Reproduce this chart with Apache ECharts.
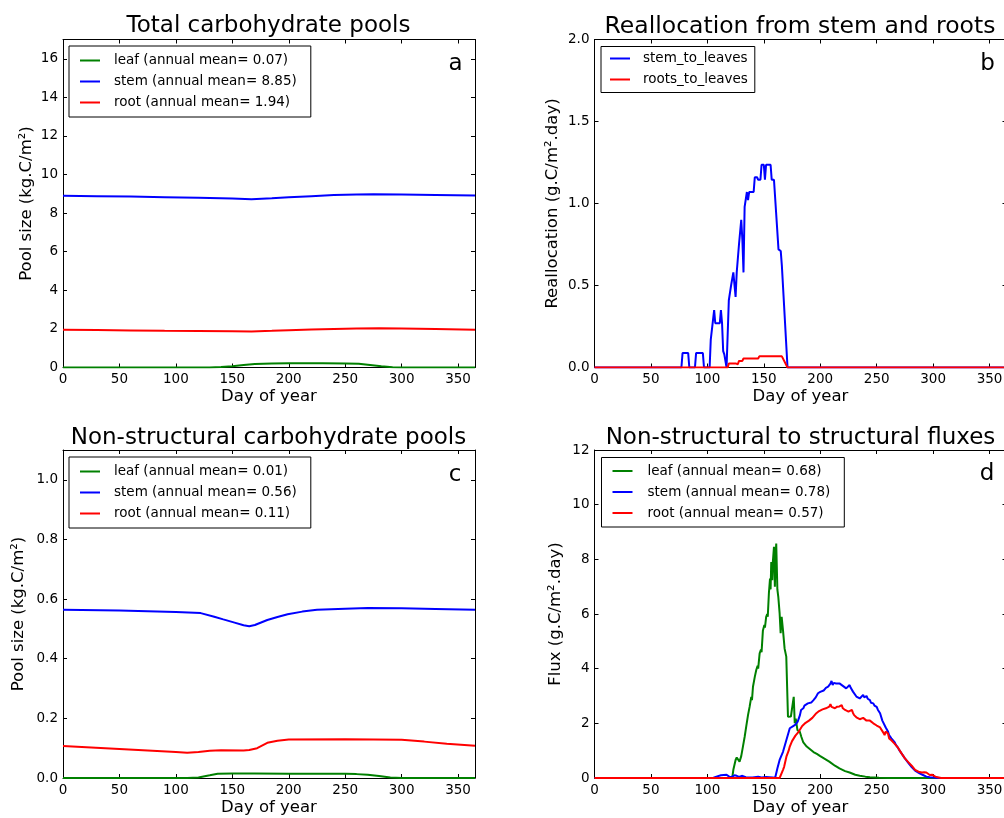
<!DOCTYPE html>
<html><head><meta charset="utf-8">
<script src="https://cdn.jsdelivr.net/npm/echarts@6/dist/echarts.min.js"></script>
<style>html,body{margin:0;padding:0;overflow:hidden;background:#fff}#c{width:1012px;height:818px}</style>
</head><body><div id="c"></div>
<script>
// ---------- data ([day of year, value]) ----------
const leafTotal = [[0,0],[130,0],[140,0.02],[150,0.07],[160,0.13],[170,0.18],[185,0.21],[200,0.22],[230,0.22],[250,0.21],[262,0.19],[272,0.13],[282,0.06],[292,0.01],[300,0],[365,0]];
const stemTotal = [[0,8.9],[30,8.88],[60,8.86],[90,8.83],[120,8.8],[150,8.76],[167,8.72],[185,8.77],[200,8.82],[220,8.88],[240,8.94],[260,8.97],[275,8.98],[300,8.96],[330,8.94],[365,8.91]];
const rootTotal = [[0,1.96],[30,1.94],[60,1.92],[90,1.9],[120,1.89],[150,1.88],[167,1.87],[185,1.9],[200,1.93],[220,1.97],[240,2.0],[260,2.02],[280,2.03],[300,2.02],[330,2.0],[365,1.96]];

const stemToLeaves = [[0,0],[77,0],[78,0.088],[83,0.088],[84,0],[89,0],[90,0.088],[96,0.088],[97,0],[102,0],[103,0.17],[104,0.17],[106,0.35],[107,0.27],[111,0.27],[112,0.35],[113,0.27],[114,0.1],[115,0.08],[117,0],[118,0],[119,0.41],[120,0.41],[121,0.5],[122,0.5],[123,0.58],[124,0.58],[125,0.43],[126,0.58],[127,0.58],[128,0.75],[129,0.75],[130,0.9],[131,0.78],[132,0.58],[133,0.98],[134,0.98],[135,1.07],[136,1.02],[137,1.07],[141,1.07],[142,1.16],[144,1.16],[145,1.145],[147,1.145],[148,1.236],[150,1.236],[151,1.145],[152,1.236],[156,1.236],[157,1.145],[159,1.145],[163,0.72],[165,0.71],[166,0.62],[167,0.61],[171,0],[365,0]];
const rootsToLeaves = [[0,0],[118,0],[119,0.025],[125,0.025],[126,0.035],[127,0.02],[128,0.04],[131,0.04],[132,0.055],[145,0.055],[146,0.068],[166,0.068],[171,0],[365,0]];

const leafNSC = [[0,0],[110,0],[120,0.002],[130,0.009],[137,0.014],[150,0.015],[170,0.015],[200,0.014],[250,0.014],[260,0.013],[270,0.011],[280,0.007],[290,0.002],[300,0],[365,0]];
const stemNSC = [[0,0.564],[50,0.562],[100,0.557],[122,0.553],[134,0.541],[142,0.532],[152,0.521],[160,0.512],[165,0.509],[170,0.513],[181,0.53],[190,0.54],[199,0.549],[212,0.558],[225,0.564],[250,0.568],[270,0.57],[300,0.569],[330,0.567],[365,0.564]];
const rootNSC = [[0,0.107],[50,0.097],[100,0.087],[110,0.085],[120,0.087],[130,0.091],[140,0.093],[160,0.092],[165,0.094],[172,0.1],[181,0.118],[190,0.125],[200,0.129],[250,0.13],[300,0.128],[320,0.122],[340,0.115],[365,0.108]];

const leafFlux = [[0,0],[122,0],[123,0.3],[125,0.66],[126,0.75],[127,0.78],[128.5,0.6],[130,0.8],[131.5,1.15],[133,1.5],[134.4,1.88],[136,2.3],[137.4,2.6],[138.9,2.97],[139.5,2.85],[140.4,3.34],[142,3.7],[143.3,3.95],[144.5,4.1],[145,4.0],[146.3,4.56],[147.5,4.7],[148,4.6],[149.2,5.4],[150.5,5.6],[151,5.5],[152.1,5.9],[153,6.0],[153.5,5.9],[154.5,6.76],[155.5,7.3],[156,6.9],[156.6,7.9],[157.5,7.24],[158,7.9],[159,8.46],[159.8,7.0],[160.3,8.0],[161,8.58],[162,6.9],[162.8,6.64],[164,6.03],[164.9,5.3],[165.8,5.9],[167,5.4],[168.4,4.74],[169.9,4.44],[171.4,2.24],[172.9,2.2],[174,2.25],[175.3,2.3],[176.5,2.97],[177.4,2.0],[178.3,2.17],[179.8,1.75],[181.8,1.7],[183.3,1.5],[185,1.3],[188,1.15],[191,1.05],[194,0.95],[197,0.88],[200,0.8],[204,0.7],[208,0.6],[213,0.45],[217,0.35],[222,0.25],[226,0.2],[231,0.12],[235,0.085],[240,0.05],[244,0.03],[252,0.01],[260,0],[365,0]];
const stemFlux = [[0,0],[105,0],[108,0.05],[112,0.1],[117,0.12],[119,0.06],[121,0.02],[124,0.1],[126,0.08],[128,0.04],[131,0.08],[134,0.03],[140,0.02],[145,0.05],[148,0.02],[152,0.04],[158,0.02],[160,0],[161,0.05],[162,0.35],[164,0.66],[167,0.96],[170,1.39],[173,1.82],[176,1.9],[178,1.95],[180,2.06],[182,2.3],[183,2.49],[185,2.55],[186,2.65],[187,2.6],[189,2.73],[190,2.68],[192,2.76],[194,2.85],[195,2.91],[196,2.95],[198,3.1],[200,3.15],[201,3.22],[203,3.2],[204,3.16],[205,3.3],[207,3.34],[208,3.4],[209,3.45],[210,3.55],[211,3.4],[212,3.48],[214,3.46],[215,3.5],[217,3.46],[218,3.44],[220,3.37],[221,3.35],[223,3.28],[224,3.3],[226,3.4],[227,3.3],[229,3.16],[230,3.1],[232,2.98],[233,3.05],[235,2.91],[236,2.95],[238,3.04],[239,2.95],[241,3.0],[242,2.9],[244,2.85],[245,2.75],[247,2.73],[248,2.65],[250,2.6],[251,2.5],[253,2.37],[255,2.1],[256,2.06],[258,1.85],[260,1.7],[261,1.57],[263,1.45],[264,1.39],[266,1.3],[267,1.21],[269,1.1],[270,1.02],[272,0.9],[273,0.84],[275,0.72],[276,0.66],[278,0.55],[279,0.48],[281,0.4],[282,0.35],[284,0.27],[285,0.23],[288,0.17],[291,0.11],[294,0.05],[297,0.03],[300,0.02],[305,0],[365,0]];
const rootFlux = [[0,0],[164,0],[165,0.05],[167,0.3],[168,0.41],[170,0.78],[172,1.0],[173,1.15],[175,1.35],[176,1.39],[178,1.55],[179,1.57],[181,1.7],[182,1.73],[184,1.9],[185,1.94],[187,2.02],[188,2.06],[190,2.1],[191,2.12],[193,2.2],[194,2.24],[196,2.35],[197,2.37],[199,2.45],[200,2.49],[202,2.51],[203,2.48],[205,2.55],[206,2.57],[208,2.61],[209,2.7],[210,2.6],[211,2.65],[213,2.55],[214,2.58],[215,2.61],[217,2.62],[219,2.67],[220,2.55],[222,2.49],[223,2.45],[225,2.43],[226,2.47],[228,2.49],[229,2.38],[230,2.3],[232,2.22],[233,2.18],[235,2.15],[236,2.12],[238,2.2],[239,2.15],[241,2.1],[242,2.06],[244,2.1],[245,2.12],[247,2.0],[248,1.94],[250,1.92],[251,1.88],[253,1.85],[254,1.82],[256,1.65],[257,1.57],[258,1.7],[259,1.68],[260,1.63],[261,1.45],[263,1.38],[264,1.33],[266,1.25],[267,1.21],[269,1.1],[270,1.05],[272,0.9],[273,0.84],[275,0.72],[276,0.68],[278,0.58],[279,0.54],[281,0.45],[282,0.41],[284,0.3],[285,0.27],[287,0.23],[288,0.22],[290,0.2],[292,0.21],[294,0.2],[295,0.15],[297,0.11],[299,0.12],[300,0.1],[302,0.05],[304,0.03],[307,0],[365,0]];

// ---------- text ----------
const panelTitles = ['Total carbohydrate pools','Reallocation from stem and roots','Non-structural carbohydrate pools','Non-structural to structural fluxes'];
const panelLetters = ['a','b','c','d'];
const yNames = ['Pool size (kg.C/m\u00B2)','Reallocation (g.C/m\u00B2.day)','Pool size (kg.C/m\u00B2)','Flux (g.C/m\u00B2.day)'];
const xName = 'Day of year';
const namesTotal = ['leaf (annual mean= 0.07)','stem (annual mean= 8.85)','root (annual mean= 1.94)'];
const namesRealloc = ['stem_to_leaves','roots_to_leaves'];
const namesNSC = ['leaf (annual mean= 0.01)','stem (annual mean= 0.56)','root (annual mean= 0.11)'];
const namesFlux = ['leaf (annual mean= 0.68)','stem (annual mean= 0.78)','root (annual mean= 0.57)'];

// ---------- layout ----------
const FONT = 'DejaVu Sans';
const GREEN = '#008000', BLUE = '#0000ff', RED = '#ff0000';
const grids = [
  {left: 63, top: 39.5, width: 412, height: 328},
  {left: 594.5, top: 39.5, width: 412, height: 328},
  {left: 63, top: 450, width: 412, height: 328},
  {left: 594.5, top: 450, width: 412, height: 328}
];
const yScales = [
  {max: 17, interval: 2, dec: 0, gap: 28, showMax: false},
  {max: 2, interval: 0.5, dec: 1, gap: 33, showMax: true},
  {max: 1.1, interval: 0.2, dec: 1, gap: 36, showMax: false},
  {max: 12, interval: 2, dec: 0, gap: 30, showMax: true}
];

const xAxes = [], yAxes = [];
grids.forEach((g, i) => {
  const tick = {show: true, inside: true, length: 4, lineStyle: {color: '#000', width: 1}};
  const line = {show: true, onZero: false, lineStyle: {color: '#000', width: 1}};
  const lab = {fontSize: 13.5, fontFamily: FONT, color: '#000'};
  xAxes.push({type: 'value', gridIndex: i, position: 'bottom', min: 0, max: 365, interval: 50,
    axisLine: line, axisTick: tick, splitLine: {show: false},
    axisLabel: Object.assign({margin: 5, showMaxLabel: false}, lab),
    name: xName, nameLocation: 'middle', nameGap: 21,
    nameTextStyle: {fontSize: 16.5, fontFamily: FONT, color: '#000'}});
  xAxes.push({type: 'value', gridIndex: i, position: 'top', min: 0, max: 365, interval: 50,
    axisLine: line, axisTick: tick, splitLine: {show: false}, axisLabel: {show: false}});
  const s = yScales[i];
  yAxes.push({type: 'value', gridIndex: i, position: 'left', min: 0, max: s.max, interval: s.interval,
    axisLine: line, axisTick: tick, splitLine: {show: false},
    axisLabel: Object.assign({margin: 5, showMaxLabel: s.showMax, formatter: v => v.toFixed(s.dec)}, lab),
    name: yNames[i], nameLocation: 'middle', nameGap: s.gap,
    nameTextStyle: {fontSize: 16.5, fontFamily: FONT, color: '#000'}});
  yAxes.push({type: 'value', gridIndex: i, position: 'right', min: 0, max: s.max, interval: s.interval,
    axisLine: line, axisTick: tick, splitLine: {show: false}, axisLabel: {show: false}});
});

function line(name, data, color, gi) {
  return {type: 'line', name, data, xAxisIndex: 2 * gi, yAxisIndex: 2 * gi,
    showSymbol: false, symbol: 'none', animation: false,
    lineStyle: {width: 2, color}, itemStyle: {color}};
}
const series = [
  line(namesTotal[0], leafTotal, GREEN, 0),
  line(namesTotal[1], stemTotal, BLUE, 0),
  line(namesTotal[2], rootTotal, RED, 0),
  line(namesRealloc[0], stemToLeaves, BLUE, 1),
  line(namesRealloc[1], rootsToLeaves, RED, 1),
  line(namesNSC[0], leafNSC, GREEN, 2),
  line(namesNSC[1], stemNSC, BLUE, 2),
  line(namesNSC[2], rootNSC, RED, 2),
  line(namesFlux[0], leafFlux, GREEN, 3),
  line(namesFlux[1], stemFlux, BLUE, 3),
  line(namesFlux[2], rootFlux, RED, 3)
];

function legend(data, left, top, pad, textPad) {
  return {data, orient: 'vertical', left, top, padding: pad, itemGap: 7,
    icon: 'rect', itemWidth: 20, itemHeight: 2, selectedMode: false,
    borderColor: '#000', borderWidth: 1, backgroundColor: '#fff',
    textStyle: {fontSize: 13.5, fontFamily: FONT, color: '#000', lineHeight: 13.5, padding: [0, 0, 0, textPad]}};
}
const legends = [
  legend(namesTotal, 69, 46, [7.5, 14, 7.5, 11], 9),
  legend(namesRealloc, 601, 46.5, [5, 7, 6, 9], 8),
  legend(namesNSC, 69, 457, [7.5, 14, 7.5, 11], 9),
  legend(namesFlux, 601.5, 457.5, [6.5, 14, 7, 11], 10)
];

const titlePos = [[268.5, 26], [800, 27], [268.5, 438], [800.5, 438]];
const letterPos = [[455.5, 64], [987.5, 64], [455, 475], [987, 474]];
const graphics = [];
panelTitles.forEach((t, i) => graphics.push({type: 'text', x: titlePos[i][0], y: titlePos[i][1],
  style: {text: t, fontSize: i === 1 ? 23.5 : 23, fontFamily: FONT, fill: '#000', align: 'center', verticalAlign: 'middle'}}));
panelLetters.forEach((t, i) => graphics.push({type: 'text', x: letterPos[i][0], y: letterPos[i][1],
  style: {text: t, fontSize: 23, fontFamily: FONT, fill: '#000', align: 'center', verticalAlign: 'middle'}}));

const chart = echarts.init(document.getElementById('c'), null, {renderer: 'canvas'});
chart.setOption({
  animation: false,
  backgroundColor: '#fff',
  grid: grids,
  xAxis: xAxes,
  yAxis: yAxes,
  legend: legends,
  series,
  graphic: graphics
});
</script></body></html>
